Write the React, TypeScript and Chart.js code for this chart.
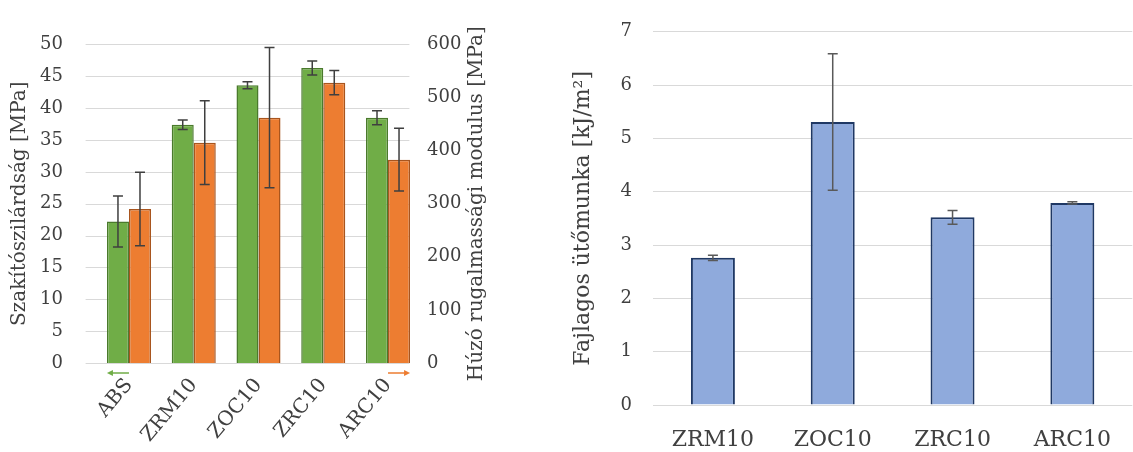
import React, { useEffect, useRef } from "react";
import { Chart, registerables } from "chart.js";

Chart.register(...registerables);

// Tensile test results (left panel)
const SAMPLES = ["ABS", "ZRM10", "ZOC10", "ZRC10", "ARC10"];
const TENSILE_STRENGTH = [22.2, 37.4, 43.6, 46.3, 38.5]; // MPa
const TENSILE_STRENGTH_ERR = [4.0, 0.75, 0.55, 1.1, 1.1];
const TENSILE_MODULUS = [290, 415, 462, 528, 383]; // MPa
const TENSILE_MODULUS_ERR = [69, 79, 132, 23, 59];

// Charpy impact results (right panel)
const IMPACT_SAMPLES = ["ZRM10", "ZOC10", "ZRC10", "ARC10"];
const IMPACT_ENERGY = [2.76, 5.31, 3.52, 3.79]; // kJ/m2
const IMPACT_ENERGY_ERR = [0.05, 1.28, 0.13, 0.02];

// Axis ranges
const STRENGTH_AXIS = { min: 0, max: 50, step: 5 };
const MODULUS_AXIS = { min: 0, max: 600, step: 100 };
const IMPACT_AXIS = { min: 0, max: 7, step: 1 };

const FONT_FAMILY = '"DejaVu Serif", serif';
const TEXT_COLOR = "#404040";
const GRID_COLOR = "#D9D9D9";
const GREEN = "#70AD47";
const GREEN_EDGE = "#4A7A2C";
const ORANGE = "#ED7D31";
const ORANGE_EDGE = "#A8551E";
const BLUE = "#8FAADC";
const BLUE_EDGE = "#1F3864";

// Draws symmetric error bars for every dataset that carries an `errors` array.
const errorBarPlugin = {
  id: "errorBars",
  afterDatasetsDraw(chart: any) {
    const ctx = chart.ctx;
    chart.data.datasets.forEach((ds: any, i: number) => {
      if (!ds.errors) return;
      const meta = chart.getDatasetMeta(i);
      const scale = chart.scales[meta.yAxisID];
      const cap = ds.errorCap ?? 5;
      ctx.save();
      ctx.strokeStyle = ds.errorColor ?? "#404040";
      ctx.lineWidth = ds.errorWidth ?? 1.5;
      meta.data.forEach((bar: any, j: number) => {
        const v = ds.data[j];
        const e = ds.errors[j];
        const { x } = bar.getProps(["x"], true);
        const yTop = scale.getPixelForValue(v + e);
        const yBot = scale.getPixelForValue(v - e);
        ctx.beginPath();
        ctx.moveTo(x, yTop);
        ctx.lineTo(x, yBot);
        ctx.moveTo(x - cap, yTop);
        ctx.lineTo(x + cap, yTop);
        ctx.moveTo(x - cap, yBot);
        ctx.lineTo(x + cap, yBot);
        ctx.stroke();
      });
      ctx.restore();
    });
  },
};

// Horizontal value grid of the left panel, slightly shifted against the bar band.
const shiftedGridPlugin = {
  id: "shiftedGrid",
  beforeDatasetsDraw(chart: any, _args: any, opts: any) {
    const { ctx, chartArea } = chart;
    const scale = chart.scales[opts.scaleID];
    ctx.save();
    ctx.strokeStyle = opts.color;
    ctx.lineWidth = 1;
    scale.ticks.forEach((t: any) => {
      const py = Math.round(scale.getPixelForValue(t.value)) + 0.5;
      ctx.beginPath();
      ctx.moveTo(chartArea.left + opts.shift, py);
      ctx.lineTo(chartArea.right + opts.shift, py);
      ctx.stroke();
    });
    ctx.restore();
  },
};

function drawArrow(ctx: CanvasRenderingContext2D, from: number, to: number, y: number, color: string) {
  const dir = Math.sign(to - from);
  ctx.save();
  ctx.strokeStyle = color;
  ctx.fillStyle = color;
  ctx.lineWidth = 1.5;
  ctx.beginPath();
  ctx.moveTo(from, y);
  ctx.lineTo(to - dir * 4, y);
  ctx.stroke();
  ctx.beginPath();
  ctx.moveTo(to, y);
  ctx.lineTo(to - dir * 6, y - 3);
  ctx.lineTo(to - dir * 6, y + 3);
  ctx.closePath();
  ctx.fill();
  ctx.restore();
}

// Small arrows under the first/last bars pointing at the axis each series belongs to.
const axisArrowPlugin = {
  id: "axisArrows",
  afterDraw(chart: any, _args: any, opts: any) {
    const ctx = chart.ctx;
    const y = chart.chartArea.bottom + opts.offset;
    const first = chart.getDatasetMeta(0).data[0].getProps(["x", "width"], true);
    const lastMeta = chart.getDatasetMeta(1);
    const last = lastMeta.data[lastMeta.data.length - 1].getProps(["x", "width"], true);
    drawArrow(ctx, first.x + first.width / 2, first.x - first.width / 2, y, GREEN);
    drawArrow(ctx, last.x - last.width / 2, last.x + last.width / 2, y, ORANGE);
  },
};

// Secondary axis title, written bottom-to-top like the primary one.
const rightTitlePlugin = {
  id: "rightTitle",
  afterDraw(chart: any, _args: any, opts: any) {
    const s = chart.scales[opts.scaleID];
    const ctx = chart.ctx;
    ctx.save();
    ctx.font = opts.font;
    ctx.fillStyle = opts.color;
    ctx.textAlign = "center";
    ctx.textBaseline = "middle";
    ctx.translate(s.right - opts.inset, (s.top + s.bottom) / 2);
    ctx.rotate(-Math.PI / 2);
    ctx.fillText(opts.text, 0, 0);
    ctx.restore();
  },
};

function tensileConfig(): any {
  return {
    type: "bar",
    data: {
      labels: SAMPLES,
      datasets: [
        {
          label: "Szakítószilárdság",
          data: TENSILE_STRENGTH,
          errors: TENSILE_STRENGTH_ERR,
          errorColor: "#3F3F3F",
          backgroundColor: GREEN,
          borderColor: GREEN_EDGE,
          borderWidth: 1.5,
          yAxisID: "y",
          categoryPercentage: 0.68,
          barPercentage: 1,
        },
        {
          label: "Húzó rugalmassági modulus",
          data: TENSILE_MODULUS,
          errors: TENSILE_MODULUS_ERR,
          errorColor: "#3F3F3F",
          backgroundColor: ORANGE,
          borderColor: ORANGE_EDGE,
          borderWidth: 1.5,
          yAxisID: "y1",
          categoryPercentage: 0.68,
          barPercentage: 1,
        },
      ],
    },
    plugins: [shiftedGridPlugin, errorBarPlugin, axisArrowPlugin, rightTitlePlugin],
    options: {
      responsive: false,
      animation: false,
      layout: { padding: { top: 25, left: 0, right: 0, bottom: 0 } },
      plugins: {
        legend: { display: false },
        tooltip: { enabled: false },
        shiftedGrid: { scaleID: "y", color: GRID_COLOR, shift: -11 },
        axisArrows: { offset: 10 },
        rightTitle: {
          scaleID: "y1",
          inset: 23,
          text: "Húzó rugalmassági modulus [MPa]",
          font: `20px ${FONT_FAMILY}`,
          color: TEXT_COLOR,
        },
      },
      scales: {
        x: {
          grid: { display: false, drawTicks: false },
          border: { display: false },
          ticks: {
            minRotation: 50,
            maxRotation: 50,
            padding: 11,
            color: TEXT_COLOR,
            font: { family: FONT_FAMILY, size: 20 },
          },
          afterFit: (s: any) => {
            s.height = 89;
          },
        },
        y: {
          position: "left",
          min: STRENGTH_AXIS.min,
          max: STRENGTH_AXIS.max,
          grid: { display: false, drawTicks: false },
          border: { display: false },
          ticks: {
            stepSize: STRENGTH_AXIS.step,
            padding: 33.6,
            color: TEXT_COLOR,
            font: { family: FONT_FAMILY, size: 18 },
          },
          title: {
            display: true,
            text: "Szakítószilárdság [MPa]",
            color: TEXT_COLOR,
            font: { family: FONT_FAMILY, size: 20 },
            padding: { top: 8, bottom: 0 },
          },
          afterFit: (s: any) => {
            s.width = 96.6;
          },
        },
        y1: {
          position: "right",
          min: MODULUS_AXIS.min,
          max: MODULUS_AXIS.max,
          grid: { display: false, drawTicks: false },
          border: { display: false },
          ticks: {
            stepSize: MODULUS_AXIS.step,
            padding: 6.6,
            color: TEXT_COLOR,
            font: { family: FONT_FAMILY, size: 18 },
          },
          afterFit: (s: any) => {
            s.width = 79.6;
          },
        },
      },
    },
  };
}

function impactConfig(): any {
  return {
    type: "bar",
    data: {
      labels: IMPACT_SAMPLES,
      datasets: [
        {
          label: "Fajlagos ütőmunka",
          data: IMPACT_ENERGY,
          errors: IMPACT_ENERGY_ERR,
          errorColor: "#595959",
          backgroundColor: BLUE,
          borderColor: BLUE_EDGE,
          borderWidth: 2,
          categoryPercentage: 1,
          barPercentage: 0.367,
        },
      ],
    },
    plugins: [errorBarPlugin],
    options: {
      responsive: false,
      animation: false,
      layout: { padding: { top: 16, left: 0, right: 0, bottom: 0 } },
      plugins: {
        legend: { display: false },
        tooltip: { enabled: false },
      },
      scales: {
        x: {
          grid: { display: false, drawTicks: false },
          border: { display: false },
          ticks: {
            padding: 22,
            color: TEXT_COLOR,
            font: { family: FONT_FAMILY, size: 22 },
          },
          afterFit: (s: any) => {
            s.height = 47;
          },
        },
        y: {
          min: IMPACT_AXIS.min,
          max: IMPACT_AXIS.max,
          grid: { color: GRID_COLOR, lineWidth: 1, drawTicks: false },
          border: { display: false },
          ticks: {
            stepSize: IMPACT_AXIS.step,
            padding: 21,
            color: TEXT_COLOR,
            font: { family: FONT_FAMILY, size: 18 },
          },
          title: {
            display: true,
            text: "Fajlagos ütőmunka [kJ/m²]",
            color: TEXT_COLOR,
            font: { family: FONT_FAMILY, size: 22 },
            padding: { top: 70, bottom: 0 },
          },
          afterFit: (s: any) => {
            s.width = 153;
          },
        },
      },
    },
  };
}

export default function App() {
  const leftRef = useRef<HTMLCanvasElement>(null);
  const rightRef = useRef<HTMLCanvasElement>(null);

  useEffect(() => {
    const left = new Chart(leftRef.current!, tensileConfig());
    const right = new Chart(rightRef.current!, impactConfig());
    return () => {
      left.destroy();
      right.destroy();
    };
  }, []);

  return (
    <div style={{ position: "absolute", left: 0, top: 0, width: 1133, height: 452, background: "#ffffff" }}>
      <canvas ref={leftRef} width={500} height={452} style={{ position: "absolute", left: 0, top: 0 }} />
      <canvas ref={rightRef} width={633} height={452} style={{ position: "absolute", left: 500, top: 0 }} />
    </div>
  );
}
